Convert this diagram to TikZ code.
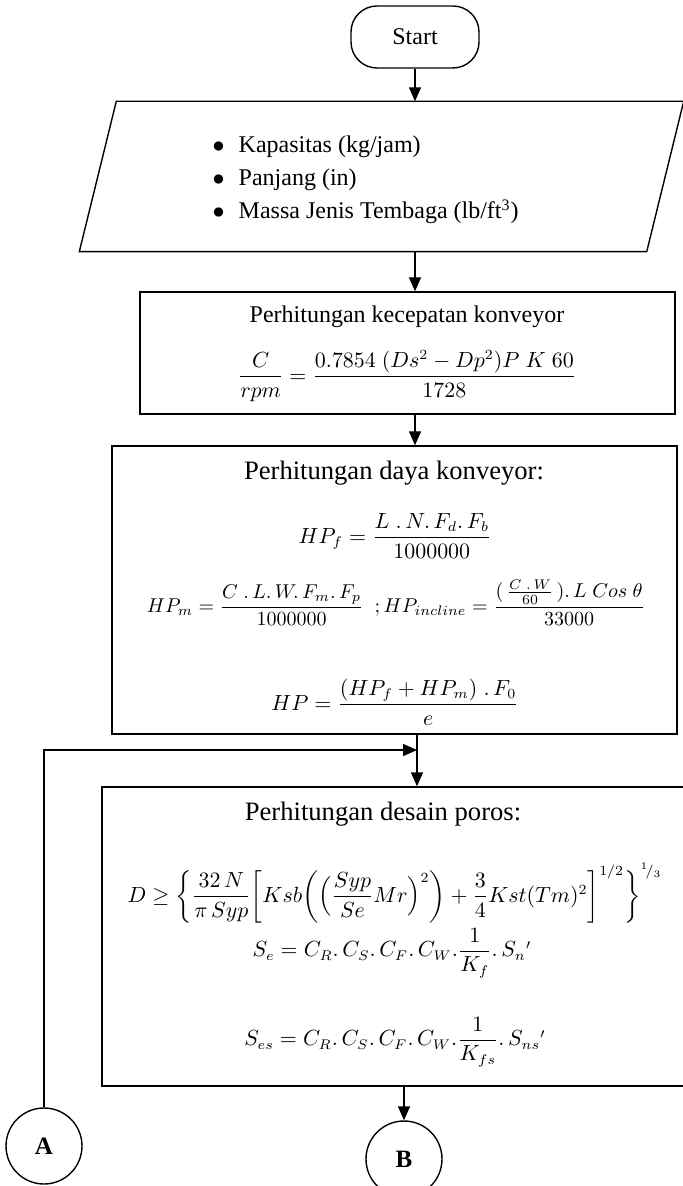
\documentclass[tikz,border=0pt]{standalone}
\usepackage{amsmath}
\usepackage{fontspec}
\setmainfont{Liberation Serif}
\usetikzlibrary{positioning, arrows.meta, calc}

\begin{document}
\begin{tikzpicture}[x=0.5pt, y=-0.5pt, line width=0.7pt,
    term/.style={draw, rounded corners=13pt, minimum width=64pt, minimum height=31pt, font=\fontsize{12}{14}\selectfont},
    frame/.style={draw, inner sep=0pt},
    conn/.style={draw, circle, minimum size=38pt, inner sep=0pt, font=\fontsize{12.5}{14}\selectfont\bfseries},
    title/.style={font=\fontsize{13.3}{16}\selectfont, inner sep=0pt},
    txt/.style={font=\fontsize{12}{16.5}\selectfont, inner sep=0pt, align=left},
    eq/.style={font=\fontsize{10.5}{12}\selectfont, inner sep=0pt},
    arr/.style={-{Triangle[length=7pt,width=6pt]}}]
  \useasboundingbox (0,0) rectangle (682,1186);

  % start and input
  \node[term] (start) at (415,37) {Start};
  \node[inner sep=0pt, minimum width=301.5pt, minimum height=74.5pt] (inp) at (381.5,176.5) {};
  \draw ($(inp.north west)+(37,0)$) -- (inp.north east) -- ($(inp.south east)+(-37,0)$) -- (inp.south west) -- cycle;
  \node[txt, anchor=west] (inptext) at (212,180) {$\bullet$\hspace{7pt}Kapasitas (kg/jam)\\
    $\bullet$\hspace{7pt}Panjang (in)\\
    $\bullet$\hspace{7pt}Massa Jenis Tembaga (lb/ft\textsuperscript{3})};

  % kecepatan konveyor
  \node[frame, minimum width=267.5pt, minimum height=61pt] (box1) at (407.5,353) {};
  \node[txt] (t1) at (407,317) {Perhitungan kecepatan konveyor};
  \node[eq] (e1) at (407,376) {$\dfrac{C}{rpm}= \dfrac{0.7854\;(Ds^2-Dp^2)P\;K\;60}{1728}$};

  % daya konveyor
  \node[frame, minimum width=282.5pt, minimum height=144pt] (box2) at (394.5,590) {};
  \node[title] (t2) at (394,473) {Perhitungan daya konveyor:};
  \node[eq] (e2) at (395,536) {$HP_f = \dfrac{L\;.\,N.\,F_d.\,F_b}{1000000}$};
  \node[eq, font=\fontsize{10}{12}\selectfont] (e3) at (396,603) {$HP_m = \dfrac{C\;.\,L.\,W.\,F_m.\,F_p}{1000000}\;\;;HP_{incline} = \dfrac{(\,\frac{C\;.\,W}{60}\,).\,L\;Cos\;\theta}{33000}$};
  \node[eq] (e4) at (395,702) {$HP = \dfrac{(HP_f+HP_m)\;.\,F_0}{e}$};

  % desain poros
  \node[frame, minimum width=294pt, minimum height=149.5pt] (box3) at (396,936.5) {};
  \node[title] (t3) at (383,814) {Perhitungan desain poros:};
  \node[eq] (e5) at (395,893) {$D \geq \biggl\{\dfrac{32\,N}{\pi\,Syp}\biggl[Ksb\biggl(\Bigl(\dfrac{Syp}{Se}Mr\Bigr)^{2}\biggr)+\dfrac{3}{4}Kst(Tm)^2\biggr]^{1/2}\biggr\}^{{}^{1}\!/_{3}}$};
  \node[eq] (e6) at (392,953) {$S_e = C_R.\,C_S.\,C_F.\,C_W.\dfrac{1}{K_f}.\,S_n{}'$};
  \node[eq] (e7) at (395,1042) {$S_{es} = C_R.\,C_S.\,C_F.\,C_W.\dfrac{1}{K_{fs}}.\,S_{ns}{}'$};

  % connectors
  \node[conn] (A) at (44,1146) {A};
  \node[conn] (B) at (404,1159) {B};
  \coordinate (join) at (417,750);

  \draw[arr] (start.south) -- (start.south |- inp.north);
  \draw[arr] (inp.south -| start) -- (box1.north -| start);
  \draw[arr] (box1.south -| start) -- (box2.north -| start);
  \draw (box2.south -| join) -- (join);
  \draw[arr] (join) -- (box3.north -| join);
  \draw[arr] (A.north) |- (join);
  \draw[arr] (box3.south -| B) -- (B.north);
\end{tikzpicture}
\end{document}
